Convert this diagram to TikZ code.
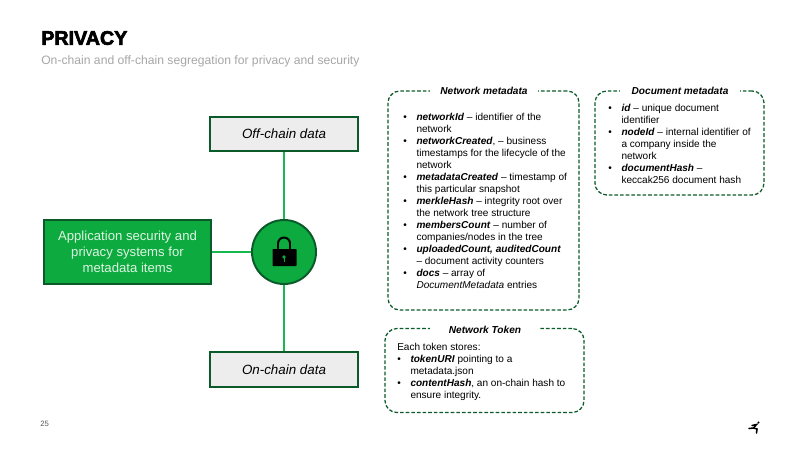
\documentclass[tikz,border=0pt]{standalone}
\usepackage{fontspec}
\setmainfont{Liberation Sans}
\newfontfamily\titlefont[FakeBold=3.2]{Liberation Sans Bold}
\definecolor{darkgreen}{HTML}{0B5A2A}
\definecolor{midgreen}{HTML}{0DAB3F}
\definecolor{linegreen}{HTML}{18B850}
\definecolor{boxgray}{HTML}{EDEDED}
\definecolor{subgray}{HTML}{A6A6A6}
\definecolor{paletext}{HTML}{DDF3E2}
\newcommand{\bul}{\makebox[9.4pt][l]{\textbullet}}
\newcommand{\bulgap}{\hspace*{9.4pt}}
\tikzset{
    databox/.style={draw=darkgreen, fill=boxgray, line width=1.4pt, minimum width=3.72cm, minimum height=0.87cm, font=\fontsize{9.5}{12}\selectfont\itshape},
    appbox/.style={draw=darkgreen, fill=midgreen, line width=1.4pt, minimum width=4.17cm, minimum height=1.6cm, align=center, text=paletext, font=\fontsize{9.35}{11.4}\selectfont},
    lockcircle/.style={draw=darkgreen, fill=midgreen, line width=1.4pt, circle, minimum size=1.6cm},
    chainline/.style={draw=linegreen, line width=2.1pt},
    metabox/.style={draw=darkgreen, line width=0.9pt, dash pattern=on 2.6pt off 1.4pt, rounded corners=0.3cm},
    metatitle/.style={fill=white, inner ysep=1pt, minimum height=0.3cm, font=\fontsize{7.2}{8.6}\selectfont\bfseries\itshape},
    metatext/.style={anchor=north west, inner sep=0pt, align=left, font=\fontsize{7.15}{8.55}\selectfont}
}
\begin{document}
\begin{tikzpicture}[x=0.025cm, y=-0.025cm]
    \useasboundingbox ( 0, 0 ) rectangle ( 800, 450 );

    % title
    \node [ anchor=west, inner sep=0pt, font=\fontsize{14}{16}\selectfont\titlefont ] (title) at ( 41, 38 ) {PRIVACY};
    \node [ anchor=west, inner sep=0pt, text=subgray, font=\fontsize{8.65}{11}\selectfont ] (subtitle) at ( 41, 61 ) {On-chain and off-chain segregation for privacy and security};

    % left part
    \node [ databox ] (offchain) at ( 284, 134 ) {Off-chain data};
    \node [ databox ] (onchain) at ( 284, 369.5 ) {On-chain data};
    \node [ appbox ] (app) at ( 127.5, 252 ) {Application security and\\privacy systems for\\metadata items};
    \node [ lockcircle ] (lock) at ( 284, 252 ) {};
    \draw [ chainline ] (offchain) -- (lock);
    \draw [ chainline ] (app) -- (lock);
    \draw [ chainline ] (lock) -- (onchain);

    % padlock
    \draw [ line width=1.4pt ] ( 278, 250 ) -- ( 278, 243.5 ) arc [ start angle=180, end angle=360, x radius=6, y radius=6 ] -- ( 290, 250 );
    \fill [ rounded corners=0.5pt ] ( 272.5, 249 ) rectangle ( 296.5, 266 );
    \fill [ midgreen ] ( 284, 257 ) circle [ radius=1.8 ];
    \draw [ midgreen, line width=0.6pt ] ( 284, 257 ) -- ( 284, 262 );

    % network metadata
    \node [ metabox, minimum width=4.775cm, minimum height=5.475cm ] (netbox) at ( 483.5, 200.5 ) {};
    \node [ metatitle, minimum width=2.7cm ] (nettitle) at ( 484, 91 ) {Network metadata};
    \node [ metatext ] (nettext) at ( 403, 113 ) {%
        \bul\textbf{\textit{networkId}} – identifier of the\\
        \bulgap network\\
        \bul\textbf{\textit{networkCreated}}, – business\\
        \bulgap timestamps for the lifecycle of the\\
        \bulgap network\\
        \bul\textbf{\textit{metadataCreated}} – timestamp of\\
        \bulgap this particular snapshot\\
        \bul\textbf{\textit{merkleHash}} – integrity root over\\
        \bulgap the network tree structure\\
        \bul\textbf{\textit{membersCount}} – number of\\
        \bulgap companies/nodes in the tree\\
        \bul\textbf{\textit{uploadedCount, auditedCount}}\\
        \bulgap – document activity counters\\
        \bul\textbf{\textit{docs}} – array of\\
        \bulgap\textit{DocumentMetadata} entries};

    % document metadata
    \node [ metabox, minimum width=4.225cm, minimum height=2.6cm ] (docbox) at ( 679.5, 143 ) {};
    \node [ metatitle, minimum width=3cm ] (doctitle) at ( 680, 91 ) {Document metadata};
    \node [ metatext ] (doctext) at ( 608, 104 ) {%
        \bul\textbf{\textit{id}} – unique document\\
        \bulgap identifier\\
        \bul\textbf{\textit{nodeId}} – internal identifier of\\
        \bulgap a company inside the\\
        \bulgap network\\
        \bul\textbf{\textit{documentHash}} –\\
        \bulgap keccak256 document hash};

    % network token
    \node [ metabox, minimum width=4.975cm, minimum height=2.1cm ] (tokenbox) at ( 484.5, 370.5 ) {};
    \node [ metatitle, minimum width=2.75cm ] (tokentitle) at ( 485, 330 ) {Network Token};
    \node [ metatext ] (tokentext) at ( 397, 343 ) {%
        Each token stores:\\
        \bul\textbf{\textit{tokenURI}} pointing to a\\
        \bulgap metadata.json\\
        \bul\textbf{\textit{contentHash}}, an on-chain hash to\\
        \bulgap ensure integrity.};

    % page number and runner
    \node [ anchor=west, inner sep=0pt, text=black!65, font=\fontsize{5.5}{6}\selectfont ] (pagenum) at ( 40, 424 ) {25};
    \fill ( 758.5, 422.5 ) circle [ radius=1.1 ];
    \draw [ line width=1.1pt, line cap=round ] ( 749, 428.5 ) -- ( 753.5, 428 ) -- ( 756.5, 424.5 ) -- ( 752, 425.5 );
    \draw [ line width=1.1pt, line cap=round ] ( 753.5, 428 ) -- ( 757, 429 ) -- ( 756.5, 433 );
\end{tikzpicture}
\end{document}
